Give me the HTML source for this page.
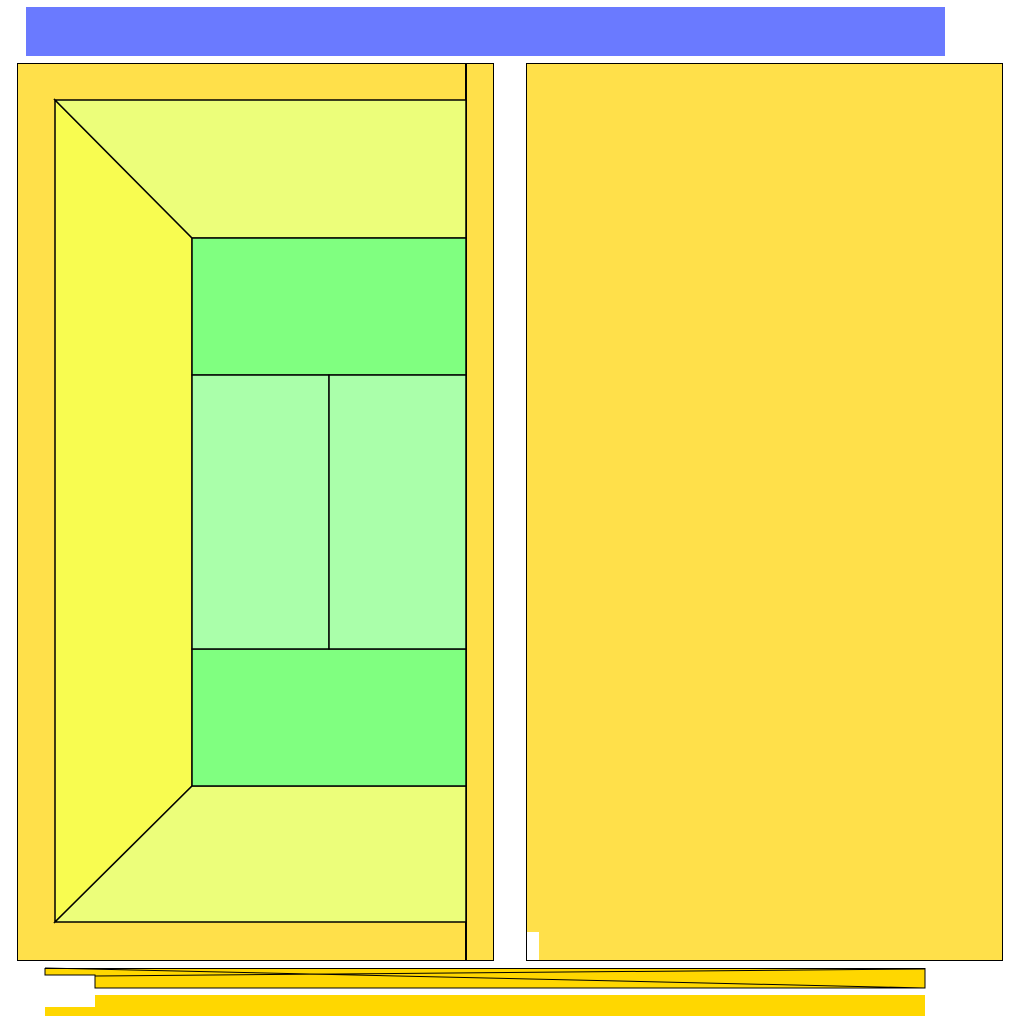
<!DOCTYPE html>
<html>
<head>
<meta charset="utf-8">
<style>
html,body{margin:0;padding:0;background:#fff;width:1024px;height:1024px;overflow:hidden;}
svg{display:block;}
</style>
</head>
<body>
<svg width="1024" height="1024" viewBox="0 0 1024 1024">
  <rect x="26" y="7" width="919" height="49" fill="#6a7aff"/>

  <g>
    <rect x="17.5" y="63.5" width="476" height="897" fill="#ffe04a" stroke="#000" stroke-width="1"/>
    <line x1="466" y1="63" x2="466" y2="960" stroke="#000" stroke-width="2"/>
    <polygon points="55,100 192,238 192,786 55,922" fill="#f8fc50" stroke="#000" stroke-width="1.5"/>
    <polygon points="55,100 466,100 466,238 192,238" fill="#ecfe7a" stroke="#000" stroke-width="1.5"/>
    <polygon points="192,786 466,786 466,922 55,922" fill="#ecfe7a" stroke="#000" stroke-width="1.5"/>
    <rect x="192" y="238" width="274" height="137" fill="#80ff80" stroke="#000" stroke-width="1.5"/>
    <rect x="192" y="649" width="274" height="137" fill="#80ff80" stroke="#000" stroke-width="1.5"/>
    <rect x="192" y="375" width="137" height="274" fill="#aaffaa" stroke="#000" stroke-width="1.5"/>
    <rect x="329" y="375" width="137" height="274" fill="#aaffaa" stroke="#000" stroke-width="1.5"/>
  </g>

  <g>
    <rect x="526.5" y="63.5" width="476" height="897" fill="#ffe04a" stroke="#000" stroke-width="1"/>
    <rect x="527" y="932" width="12" height="28" fill="#fff"/>
  </g>

  <g>
    <polygon points="45,968.5 925,968.5 925,988 95,988 95,975 45,975" fill="#ffd700" stroke="#000" stroke-width="1"/>
    <line x1="45" y1="968" x2="925" y2="988" stroke="#000" stroke-width="1"/>
    <line x1="95" y1="976" x2="925" y2="969" stroke="#000" stroke-width="1"/>
  </g>

  <g>
    <rect x="95" y="995" width="830" height="21" fill="#ffd700"/>
    <rect x="45" y="1007" width="50" height="9" fill="#ffd700"/>
  </g>
</svg>
</body>
</html>
